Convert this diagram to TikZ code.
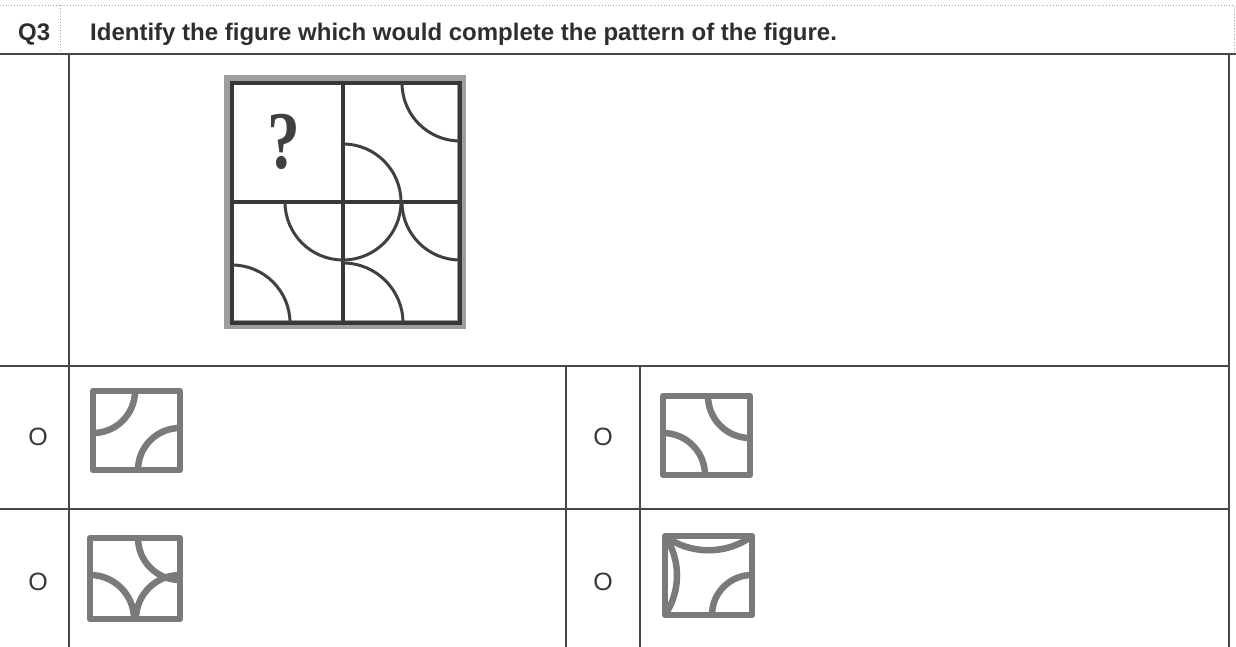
\documentclass[tikz,border=0pt]{standalone}
\usepackage{fontspec}
\setmainfont{Liberation Sans}
\newfontfamily\qmarkfont{Liberation Serif}
\begin{document}
\begin{tikzpicture}[x=1pt,y=-1pt,
  rule/.style={draw=black!72,line width=1.3pt},
  dotrule/.style={draw=black!35,line width=0.8pt,dotted},
  gridline/.style={draw=black!78,line width=3.5pt},
  arcline/.style={draw=black!75,line width=3pt},
  optfig/.style={draw=black!52,line width=6.5pt,line join=round},
  headtext/.style={anchor=base west,inner sep=0pt,text=black!82,
    font=\fontsize{24}{28}\selectfont\bfseries},
  optmark/.style={inner sep=0pt,text=black!78,font=\fontsize{25}{25}\selectfont}]
\useasboundingbox (0,0) rectangle (1236,647);
% table rules
\draw[dotrule] (0,5) -- (1234,5) -- (1234,54);
\draw[dotrule] (60,5) -- (60,54);
\draw[rule,line width=2pt] (0,54) -- (1236,54);
\draw[rule] (69,54) -- (69,647);
\draw[rule] (1229,54) -- (1229,647);
\draw[rule] (0,366) -- (1229,366);
\draw[rule] (0,509) -- (1229,509);
\draw[rule] (566,366) -- (566,647);
\draw[rule] (640,366) -- (640,647);
% header
\node[headtext] (qnum) at (18,41) {Q3};
\node[headtext] (question) at (90,41) {Identify the figure which would complete the pattern of the figure.};
% puzzle grid
\draw[draw=black!38,line width=9pt] (228,80) rectangle (461,324);
\draw[gridline] (232,83) rectangle (460,323);
\draw[gridline] (343,83) -- (343,323);
\draw[gridline] (232,202) -- (460,202);
\draw[arcline] (343,144) arc[start angle=-90,end angle=180,radius=58];
\draw[arcline] (402,83) arc[start angle=180,end angle=90,radius=58];
\draw[arcline] (402,202) arc[start angle=180,end angle=90,radius=58];
\draw[arcline] (343,263) arc[start angle=-90,end angle=0,radius=60];
\draw[arcline] (232,265) arc[start angle=-90,end angle=0,radius=58];
\node[text=black!75,xscale=0.8,inner sep=0pt,
  font=\qmarkfont\fontsize{82}{82}\selectfont\bfseries] (qmark) at (284,142) {?};
% option marks
\node[optmark] (markA) at (38,437) {O};
\node[optmark] (markB) at (603,437) {O};
\node[optmark] (markC) at (38,582) {O};
\node[optmark] (markD) at (603,582) {O};
% option A
\draw[optfig] (93,391) rectangle (180,470);
\draw[optfig] (135,391) arc[start angle=0,end angle=90,radius=42];
\draw[optfig] (138,470) arc[start angle=180,end angle=270,radius=42];
% option B
\draw[optfig] (663,396) rectangle (750,475);
\draw[optfig] (708,396) arc[start angle=180,end angle=90,radius=42];
\draw[optfig] (663,433) arc[start angle=-90,end angle=0,radius=42];
% option C
\draw[optfig] (90,538) rectangle (180,619);
\draw[optfig] (138,538) arc[start angle=180,end angle=90,radius=42];
\draw[optfig] (90,575) arc[start angle=-90,end angle=0,radius=44];
\draw[optfig] (180,575) arc[start angle=270,end angle=180,radius=44];
% option D
\draw[optfig] (665,536) rectangle (752,615);
\draw[optfig] (665,536) .. controls (690,555) and (727,555) .. (752,536);
\draw[optfig] (665,536) .. controls (681,560) and (681,591) .. (665,615);
\draw[optfig] (712,615) arc[start angle=180,end angle=270,radius=40];
\end{tikzpicture}
\end{document}
